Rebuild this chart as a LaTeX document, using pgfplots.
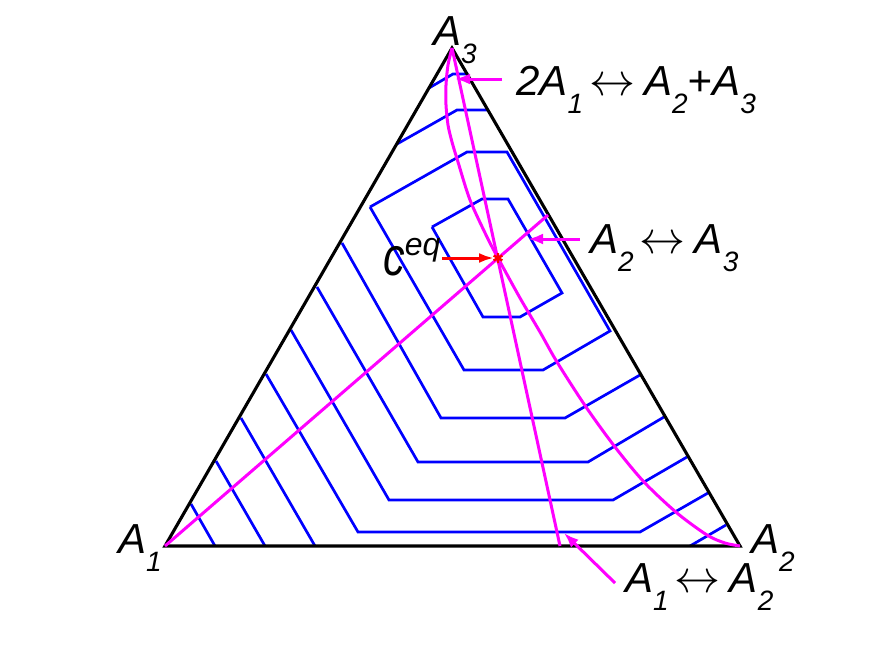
\documentclass[border=0pt]{standalone}
\usepackage{pgfplots}
\pgfplotsset{compat=1.18}
\usepackage{fontspec}
\setmainfont{Liberation Sans}
\usetikzlibrary{arrows.meta}
\definecolor{mag}{RGB}{255,0,255}
\definecolor{bl}{RGB}{0,0,255}
\definecolor{rd}{RGB}{255,0,0}
\newcommand{\lab}{\fontsize{42}{42}\selectfont\itshape}
\newcommand{\sub}[1]{\raisebox{-18pt}{\fontsize{28}{28}\selectfont\itshape #1}}
\newcommand{\lr}{\hspace{6pt}\raisebox{0pt}{\scalebox{4.6}{\normalsize$\leftrightarrow$}}\hspace{9pt}}
\begin{document}
\begin{tikzpicture}
\begin{axis}[width=875pt, height=656pt, scale only axis,
  xmin=0, xmax=875, ymin=0, ymax=656, y dir=reverse,
  hide axis, clip=false]
\coordinate (BL) at (axis cs:0,656);
\coordinate (TR) at (axis cs:875,0);
% blue contours
\pgfplotsset{cont/.style={bl, line width=2.7pt, line join=miter}}
\addplot[cont] coordinates {(191,504) (215,546)};
\addplot[cont] coordinates {(216,461) (265,546)};
\addplot[cont] coordinates {(241,418) (315,546)};
\addplot[cont] coordinates {(690,546) (726,525)};
\addplot[cont] coordinates {(266,374) (358,532) (640,532) (708,493)};
\addplot[cont] coordinates {(291,330) (389,500) (613,500) (687,457)};
\addplot[cont] coordinates {(317,287) (418,462) (588,462) (664,417)};
\addplot[cont] coordinates {(342,243) (441,418) (565,418) (640,375)};
\addplot[cont] coordinates {(370,207) (464,370) (543,370) (610,331) (507,152) (467,152) (370,207)};
\addplot[cont] coordinates {(432,227) (483,317) (520,317) (562,293) (508,199) (482,199) (432,227)};
\addplot[cont] coordinates {(397,144) (457,110) (488,110)};
\addplot[cont] coordinates {(429,88) (453,74) (468,74)};
% triangle
\addplot[black, line width=3.1pt, line join=miter] coordinates {(165,546) (740,546) (452,48) (165,546) (740,546)};
% magenta equilibrium curves
\addplot[mag, line width=3pt] coordinates {(165,546) (548,215)};
\addplot[mag, line width=3pt] coordinates {(452,48) (560,546)};
\addplot[mag, line width=3pt, smooth] coordinates {(452,48) (448,65) (446,85) (446,105) (448,125) (452,142) (458,162) (470,200) (487,237) (498,258) (520,298) (540,332) (557,362) (586,407) (615,447) (644,482) (677,513) (707,535) (725,543) (740,546)};
% magenta arrows
\addplot[mag, line width=3pt, -{Latex[length=15pt,width=11pt]}] coordinates {(502,79) (455,79)};
\addplot[mag, line width=3pt, -{Latex[length=15pt,width=11pt]}] coordinates {(580,239) (528,239)};
\addplot[mag, line width=3pt, -{Latex[length=15pt,width=11pt]}] coordinates {(615,583) (564,533)};
% equilibrium point
\addplot[rd, line width=3pt, -{Latex[length=15pt,width=10pt]}] coordinates {(442,258) (494,258)};
\addplot[rd, only marks, mark=asterisk, mark size=5pt, line width=2.4pt] coordinates {(498,258)};
% labels
\node[anchor=base west, inner sep=0] at (axis cs:433,45) {\lab A\sub{3}};
\node[anchor=base west, inner sep=0] at (axis cs:118,553) {\lab A\sub{1}};
\node[anchor=base west, inner sep=0] at (axis cs:751,553) {\lab A\sub{2}};
\node[anchor=base west, inner sep=0] at (axis cs:516,95) {\lab 2A\sub{1}\lr A\sub{2}+A\sub{3}};
\node[anchor=base west, inner sep=0] at (axis cs:590,253) {\lab A\sub{2}\lr A\sub{3}};
\node[anchor=base west, inner sep=0] at (axis cs:625,592) {\lab A\sub{1}\lr A\sub{2}};
\node[anchor=base west, inner sep=0] at (axis cs:383,275) {\scalebox{0.8}[1]{\fontsize{54}{54}\selectfont\itshape c}\raisebox{20pt}{\fontsize{32}{32}\selectfont\itshape eq}};
\end{axis}
\pgfresetboundingbox
\useasboundingbox (BL) rectangle (TR);
\end{tikzpicture}
\end{document}
